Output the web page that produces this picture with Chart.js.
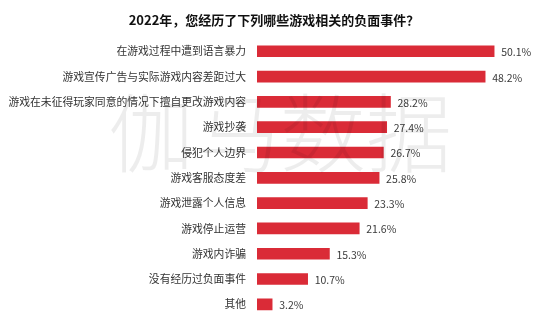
<!DOCTYPE html>
<html>
<head>
<meta charset="utf-8">
<script src="https://cdn.jsdelivr.net/npm/chart.js@4.4.1/dist/chart.umd.min.js"></script>
<style>
  html, body { margin: 0; padding: 0; background: #fff; }
  #wrap { width: 554px; height: 329px; position: relative; }
</style>
</head>
<body>
<div id="wrap"><canvas id="c"></canvas></div>
<script>
const titleText = '2022年，您经历了下列哪些游戏相关的负面事件？';
const categories = [
  '在游戏过程中遭到语言暴力',
  '游戏宣传广告与实际游戏内容差距过大',
  '游戏在未征得玩家同意的情况下擅自更改游戏内容',
  '游戏抄袭',
  '侵犯个人边界',
  '游戏客服态度差',
  '游戏泄露个人信息',
  '游戏停止运营',
  '游戏内诈骗',
  '没有经历过负面事件',
  '其他'
];
const values = [50.1, 48.2, 28.2, 27.4, 26.7, 25.8, 23.3, 21.6, 15.3, 10.7, 3.2];
const watermark = '伽马数据';

const FONT = '"Noto Sans CJK SC", "Noto Sans", sans-serif';

const valueLabels = {
  id: 'valueLabels',
  afterDatasetsDraw(chart) {
    const ctx = chart.ctx;
    const meta = chart.getDatasetMeta(0);
    ctx.save();
    ctx.font = '10.5px ' + FONT;
    ctx.fillStyle = '#3a3a3a';
    ctx.textAlign = 'left';
    ctx.textBaseline = 'middle';
    meta.data.forEach((bar, i) => {
      ctx.fillText(values[i].toFixed(1) + '%', bar.x + 7, bar.y + 1);
    });
    ctx.restore();
  }
};

const watermarkPlugin = {
  id: 'watermark',
  afterDraw(chart) {
    const ctx = chart.ctx;
    ctx.save();
    ctx.font = '300 86px ' + FONT;
    ctx.fillStyle = 'rgba(0,0,0,0.07)';
    ctx.textAlign = 'center';
    ctx.textBaseline = 'middle';
    ctx.fillText(watermark, 280, 133);
    ctx.restore();
  }
};

new Chart(document.getElementById('c'), {
  type: 'bar',
  data: {
    labels: categories,
    datasets: [{
      data: values,
      backgroundColor: '#da2b37',
      barThickness: 11
    }]
  },
  options: {
    indexAxis: 'y',
    responsive: true,
    maintainAspectRatio: false,
    animation: false,
    layout: { padding: { left: 7, right: 13, top: 0, bottom: 12 } },
    plugins: {
      legend: { display: false },
      tooltip: { enabled: false },
      title: {
        display: true,
        text: titleText,
        color: '#111',
        font: { family: FONT, size: 13, weight: 'bold' },
        padding: { top: 12, bottom: 11 }
      }
    },
    scales: {
      x: {
        display: false,
        min: 0,
        max: 60
      },
      y: {
        grid: { display: false, drawTicks: false },
        border: { display: false },
        afterFit(scale) {
          scale.width = 250;
          scale.paddingTop = 0;
          scale.paddingBottom = 0;
        },
        ticks: {
          color: '#333',
          font: { family: FONT, size: 10.8 },
          padding: 11
        }
      }
    }
  },
  plugins: [valueLabels, watermarkPlugin]
});
</script>
</body>
</html>
